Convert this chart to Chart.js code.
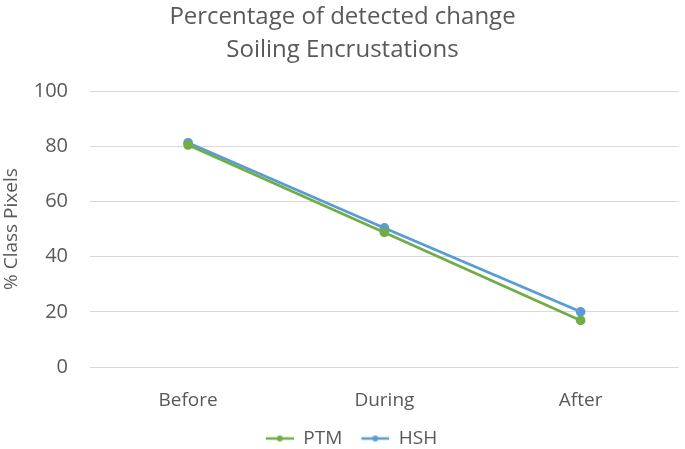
<!DOCTYPE html>
<html><head><meta charset="utf-8">
<script src="https://cdn.jsdelivr.net/npm/chart.js@4/dist/chart.umd.min.js"></script>
<style>html,body{margin:0;padding:0;background:#fff}#wrap{width:685px;height:449px}</style>
</head><body><div id="wrap"><canvas id="c" width="685" height="449"></canvas></div>
<script>
const categories = ["Before", "During", "After"];
const ptmValues = [80.5, 48.8, 16.9];
const hshValues = [81.3, 50.4, 20.0];
const yTicks = [0, 20, 40, 60, 80, 100];
const titleLines = ["Percentage of detected change", "Soiling Encrustations"];

const font = "'Open Sans', 'Noto Sans', sans-serif";

function legendMark(color) {
  const c = document.createElement('canvas');
  c.width = 46; c.height = 10;
  const g = c.getContext('2d');
  g.strokeStyle = color; g.lineWidth = 2.5;
  g.beginPath(); g.moveTo(18, 5); g.lineTo(46, 5); g.stroke();
  g.fillStyle = color;
  g.beginPath(); g.arc(32, 5, 3, 0, Math.PI * 2); g.fill();
  return c;
}

new Chart(document.getElementById('c'), {
  type: 'line',
  data: {
    labels: categories,
    datasets: [
      {label: 'PTM', data: ptmValues, borderColor: '#70AD47', backgroundColor: '#70AD47', borderWidth: 2.75, pointRadius: 3.5, pointHoverRadius: 3.5, tension: 0, pointStyle: 'circle'},
      {label: 'HSH', data: hshValues, borderColor: '#5B9BD5', backgroundColor: '#5B9BD5', borderWidth: 2.75, pointRadius: 3.5, pointHoverRadius: 3.5, tension: 0, pointStyle: 'circle'}
    ]
  },
  options: {
    responsive: false,
    animation: false,
    layout: {padding: {left: 0, right: 0, top: 0, bottom: -9}},
    plugins: {
      title: {display: true, text: titleLines, color: '#595959', font: {family: font, size: 24, weight: 'normal', lineHeight: 1.4}, padding: {top: 0, bottom: 24}},
      legend: {position: 'bottom', labels: {
        color: '#595959', font: {family: font, size: 19}, padding: 1,
        usePointStyle: true, pointStyleWidth: 46,
        generateLabels: (chart) => chart.data.datasets.map((ds, i) => ({
          text: ds.label, fontColor: '#595959', pointStyle: legendMark(ds.borderColor),
          strokeStyle: ds.borderColor, fillStyle: ds.borderColor, lineWidth: 0, datasetIndex: i, hidden: false
        }))
      }},
      tooltip: {enabled: false}
    },
    scales: {
      x: {
        offset: true,
        grid: {display: false},
        border: {display: false},
        ticks: {color: '#595959', font: {family: font, size: 19}, padding: 14},
        afterFit: (ax) => { ax.height = 61; }
      },
      y: {
        min: 0, max: 100,
        afterBuildTicks: (ax) => { ax.ticks = yTicks.map(v => ({value: v})); },
        grid: {color: '#D9D9D9', lineWidth: 1, drawTicks: false},
        border: {display: false},
        ticks: {color: '#595959', font: {family: font, size: 20}, padding: 22},
        title: {display: true, text: '% Class Pixels', color: '#595959', font: {family: font, size: 19}, padding: {top: 0, bottom: 0}},
        afterFit: (ax) => { ax.width = 90; }
      }
    }
  }
});
</script></body></html>
